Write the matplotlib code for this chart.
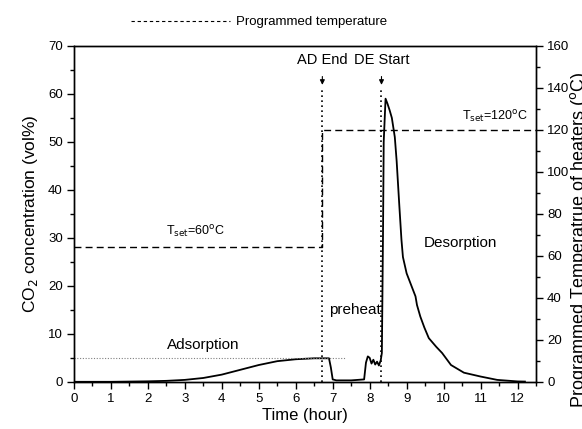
import matplotlib.pyplot as plt
from matplotlib.lines import Line2D
from matplotlib.ticker import MultipleLocator

plt.rcParams['font.family'] = ['Liberation Sans', 'DejaVu Sans']

# CO2 concentration (time in hours, vol%)
time_h = [0, 0.5, 1, 1.5, 2, 2.5, 3, 3.5, 4, 4.5, 5, 5.5, 6, 6.5, 6.9, 6.95,
          7.0, 7.1, 7.5, 7.85, 7.9, 7.95, 8.0, 8.05, 8.1, 8.15, 8.2, 8.25,
          8.3, 8.33, 8.36, 8.38, 8.43, 8.48, 8.54, 8.6, 8.68, 8.73, 8.8, 8.86,
          8.9, 9.0, 9.12, 9.24, 9.28, 9.37, 9.48, 9.6, 9.8, 9.96, 10.2,
          10.55, 11.0, 11.45, 12.0, 12.2]
co2 = [0, 0, 0, 0.05, 0.1, 0.2, 0.4, 0.8, 1.5, 2.5, 3.5, 4.3, 4.7, 4.9, 4.9, 3.0,
       0.5, 0.3, 0.3, 0.5, 4.0, 5.3, 5.0, 3.8, 4.6, 3.6, 4.2, 3.4,
       4.5, 6.0, 30, 50, 59, 58, 56.6, 55, 51, 46, 37, 29.6,
       26, 22.6, 20.2, 17.8, 16, 13.6, 11.3, 9.1, 7.3, 6.0, 3.5,
       1.9, 1.1, 0.4, 0.08, 0.05]

# programmed heater temperature (step)
temp_t = [0, 6.72, 6.72, 12.5]
temp_c = [64, 64, 120, 120]

ad_end = 6.72
de_start = 8.32
co2_level = 5

fig = plt.figure(figsize=(5.82, 4.29), dpi=100)
ax = fig.add_axes([0.127, 0.110, 0.794, 0.783])
ax2 = ax.twinx()

ax.plot(time_h, co2, color='black', lw=1.3)
ax.plot([0, 7.32], [co2_level, co2_level], color='grey', ls=(0, (1, 1.5)), lw=0.8)
ax2.plot(temp_t, temp_c, color='black', ls=(0, (5, 3)), lw=1.0)

# event markers
for x, lab in [(ad_end, 'AD End'), (de_start, 'DE Start')]:
    ax.plot([x, x], [0, 61.5], color='black', ls=(0, (1, 2)), lw=1.2)
    ax.annotate('', xy=(x, 61.3), xytext=(x, 64.2),
                arrowprops=dict(arrowstyle='-|>', color='black', lw=0.8,
                                mutation_scale=7))
    ax.text(x, 65.5, lab, ha='center', va='bottom', fontsize=10.5)

ax.text(3.5, 7.7, 'Adsorption', ha='center', va='center', fontsize=11)
ax.text(7.6, 15, 'preheat', ha='center', va='center', fontsize=11)
ax.text(10.45, 29, 'Desorption', ha='center', va='center', fontsize=11)
ax.text(3.3, 29.5, r'T$_{\rm set}$=60$^{\rm o}$C', ha='center', va='bottom', fontsize=9)
ax.text(11.4, 53.5, r'T$_{\rm set}$=120$^{\rm o}$C', ha='center', va='bottom', fontsize=9)

ax.set_xlim(0, 12.5)
ax.set_ylim(0, 70)
ax2.set_ylim(0, 160)
ax.xaxis.set_major_locator(MultipleLocator(1))
ax.xaxis.set_minor_locator(MultipleLocator(0.5))
ax.yaxis.set_major_locator(MultipleLocator(10))
ax.yaxis.set_minor_locator(MultipleLocator(5))
ax2.yaxis.set_major_locator(MultipleLocator(20))
ax2.yaxis.set_minor_locator(MultipleLocator(10))

for a in (ax, ax2):
    a.tick_params(which='major', direction='out', length=5, width=1,
                  labelsize=9.5, pad=3)
    a.tick_params(which='minor', direction='out', length=3, width=1)
    for s in a.spines.values():
        s.set_linewidth(1.0)

ax.set_xlabel('Time (hour)', fontsize=12, labelpad=2)
ax.set_ylabel(r'CO$_2$ concentration (vol%)', fontsize=12.5, labelpad=6)
# right label runs off the figure edge, as in the original
fig.text(0.995, 0.44, r'Programmed Temperatrue of heaters ($^{\rm o}$C)',
         rotation=90, ha='center', va='center', fontsize=13)

handle = Line2D([], [], color='black', ls=(0, (3, 2.5)), lw=0.8)
fig.legend([handle], ['Programmed temperature'], loc='center',
           bbox_to_anchor=(0.445, 0.948), frameon=False, fontsize=9.5,
           handlelength=7.5, handletextpad=0.4)

fig.savefig('out.png', dpi=100)
